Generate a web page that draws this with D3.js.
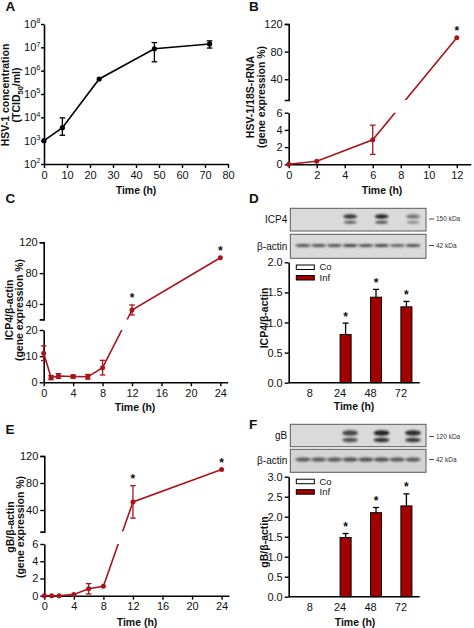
<!DOCTYPE html>
<html><head><meta charset="utf-8">
<script src="https://cdn.jsdelivr.net/npm/d3@7"></script>
<style>
body{margin:0;background:#fff}
svg text{font-family:"Liberation Sans",Arial,Helvetica,sans-serif}
</style></head><body>
<svg id="fig" width="474" height="628"></svg>
<script>
// ---------- DATA ----------
// Panel A: HSV-1 titre (TCID50/ml), log scale
const timeA = [0, 8, 24, 48, 72];
const valA  = [1000, 3600, 4.4e5, 8.7e6, 1.4e7];
const lowA  = [1000, 1700, 4.4e5, 2.4e6, 9.3e6];
const highA = [1000, 9500, 4.4e5, 1.6e7, 1.9e7];
const expTicksA = [2, 3, 4, 5, 6, 7, 8];
const xTicksA = [0, 10, 20, 30, 40, 50, 60, 70, 80];

// Panel B: HSV-1/18S-rRNA
const timeB = [0, 2, 6, 12];
const valB  = [0, 0.35, 2.85, 100];
const sdB   = [0, 0.05, 1.7, 0.8];
const starB = [0, 0, 0, 1];
const xTicksB = [0, 2, 4, 6, 8, 10, 12];
const lowTicksB = [0, 2, 4, 6];
const upTicksB = [40, 80, 120];

// Panel C: ICP4/beta-actin mRNA
const timeC = [0, 1, 2, 4, 6, 8, 12, 24];
const valC  = [11.1, 1.8, 2.4, 2.2, 2.1, 5.6, 32.2, 100];
const sdC   = [2.8, 0.8, 0.9, 0.6, 0.9, 2.8, 6.5, 0.5];
const starC = [0, 0, 0, 0, 0, 0, 1, 1];
const xTicksCE = [0, 4, 8, 12, 16, 20, 24];
const lowTicksC = [0, 10, 20];
const upTicksC = [40, 80, 120];

// Panel E: gB/beta-actin mRNA
const timeE = [0, 1, 2, 4, 6, 8, 12, 24];
const valE  = [0, 0, 0, 0.15, 0.8, 1.1, 52, 100];
const sdE   = [0, 0, 0, 0.05, 0.6, 0.05, 24, 0.5];
const starE = [0, 0, 0, 0, 0, 0, 1, 1];
const lowTicksE = [0, 2, 4, 6];
const upTicksE = [40, 80, 120];

// Panels D and F: protein bars
const barCats = ["8", "24", "48", "72"];
const groups = ["Co", "Inf"];
const coD  = [0, 0, 0, 0];
const infD = [0, 0.80, 1.42, 1.26];
const sdD  = [0, 0.19, 0.13, 0.09];
const ticksD = [0, 0.5, 1.0, 1.5, 2.0];
const coF  = [0, 0, 0, 0];
const infF = [0, 1.48, 2.10, 2.27];
const sdF  = [0, 0.10, 0.13, 0.30];
const ticksF = [0, 0.5, 1.0, 1.5, 2.0, 2.5, 3.0];

// Western blot lanes (relative band intensity per lane)
const lanes = [1, 2, 3, 4, 5, 6, 7, 8];
const icp4Band  = [0, 0, 0, 0.9, 0, 1, 0, 0.55];
const actinD    = [0.75, 0.75, 0.75, 0.8, 0.75, 0.8, 0.65, 0.75];
const gbBand    = [0, 0, 0, 0.8, 0, 1, 0, 0.95];
const actinF    = [0.7, 0.7, 0.7, 0.75, 0.75, 0.75, 0.7, 0.7];

// ---------- DRAW ----------
const svg = d3.select("#fig");
const RED = "#a8141b", BAR = "#a30000";
const defs = svg.append("defs");
defs.append("filter").attr("id", "blur").attr("x", "-50%").attr("y", "-100%")
  .attr("width", "200%").attr("height", "300%")
  .append("feGaussianBlur").attr("stdDeviation", 0.9);
const intFmt = d3.format("d");

function styleAxis(g) {
  g.attr("font-family", null).attr("font-size", null);
  g.selectAll("path.domain").attr("stroke", "#000").attr("stroke-width", 1.6);
  g.selectAll(".tick line").attr("stroke", "#000").attr("stroke-width", 1.4);
  g.selectAll(".tick text").attr("font-size", 11).attr("fill", "#111");
}
function text(x, y, s, o = {}) {
  const t = svg.append("text").attr("x", x).attr("y", y).text(s)
    .attr("font-size", o.size || 11).attr("fill", "#111")
    .attr("text-anchor", o.anchor || "middle");
  if (o.bold) t.attr("font-weight", "bold");
  return t;
}
function panelLetter(x, y, s) { text(x, y, s, {size: 13.5, bold: true, anchor: "start"}); }
function timeTitle(x, y) { text(x, y, "Time (h)", {size: 10.5, bold: true}); }
function yTitle(cy, lines) {
  const g = svg.append("g").attr("transform", `translate(0,${cy}) rotate(-90)`);
  lines.forEach(l => {
    const t = g.append("text").attr("x", 0).attr("y", l.x).attr("dy", "0.36em")
      .attr("text-anchor", "middle").attr("font-size", 10.5).attr("font-weight", "bold")
      .attr("fill", "#111");
    if (l.parts) l.parts.forEach(p => {
      const ts = t.append("tspan").text(p.s);
      if (p.sub) ts.attr("font-size", 7.5).attr("dy", 3);
      if (p.after) ts.attr("dy", -3);
    });
    else t.text(l.text);
  });
}

// ---- Panel A ----
(function () {
  const x = d3.scaleLinear().domain([0, 80]).range([44, 228]);
  const y = d3.scaleLog().domain([1e2, 1e8]).range([164, 24]);
  svg.append("g").attr("transform", "translate(0,164)")
    .call(d3.axisBottom(x).tickValues(xTicksA).tickFormat(intFmt).tickSize(4).tickSizeOuter(0).tickPadding(3))
    .call(styleAxis);
  svg.append("g").attr("transform", "translate(44,0)")
    .call(d3.axisLeft(y).tickValues(expTicksA.map(e => Math.pow(10, e))).tickFormat("").tickSize(3).tickSizeOuter(0))
    .call(styleAxis);
  expTicksA.forEach(e => {
    const t = svg.append("text").attr("x", 40.5).attr("y", y(Math.pow(10, e))).attr("dy", "0.36em")
      .attr("text-anchor", "end").attr("font-size", 11).attr("fill", "#111");
    t.append("tspan").text("10");
    t.append("tspan").text(e).attr("font-size", 7.5).attr("dy", -4.5);
  });
  const pts = timeA.map((t, i) => [x(t), y(valA[i])]);
  svg.append("path").attr("d", d3.line()(pts)).attr("fill", "none").attr("stroke", "#000").attr("stroke-width", 1.6);
  timeA.forEach((t, i) => {
    if (highA[i] > lowA[i]) {
      const g = svg.append("g").attr("stroke", "#000").attr("stroke-width", 1.3);
      g.append("line").attr("x1", x(t)).attr("x2", x(t)).attr("y1", y(lowA[i])).attr("y2", y(highA[i]));
      [lowA[i], highA[i]].forEach(v => g.append("line").attr("x1", x(t) - 2.8).attr("x2", x(t) + 2.8).attr("y1", y(v)).attr("y2", y(v)));
    }
  });
  svg.append("g").selectAll("circle").data(pts).join("circle")
    .attr("cx", d => d[0]).attr("cy", d => d[1]).attr("r", 2.6).attr("fill", "#000");
  panelLetter(5.5, 11, "A");
  timeTitle(136, 194);
  yTitle(95, [
    {x: 5.5, text: "HSV-1 concentration"},
    {x: 16.5, parts: [{s: "(TCID"}, {s: "50", sub: true}, {s: "/ml)", after: true}]}
  ]);
})();

// ---- broken-axis line panels ----
function linePanel(o) {
  const x = d3.scaleLinear().domain(o.xDomain).range(o.xRange);
  const yl = d3.scaleLinear().domain(o.lowDomain).range(o.lowRange);
  const yu = d3.scaleLinear().domain(o.upDomain).range(o.upRange);
  const y = v => v <= o.lowDomain[1] ? yl(v) : yu(v);
  const ax = o.xRange[0], ay = o.lowRange[0];
  svg.append("g").attr("transform", `translate(0,${ay})`)
    .call(d3.axisBottom(x).tickValues(o.xTicks).tickFormat(intFmt).tickSize(4).tickSizeOuter(0).tickPadding(3)).call(styleAxis);
  svg.append("g").attr("transform", `translate(${ax},0)`)
    .call(d3.axisLeft(yl).tickValues(o.lowTicks).tickFormat(intFmt).tickSize(4).tickSizeOuter(0).tickPadding(2)).call(styleAxis);
  svg.append("g").attr("transform", `translate(${ax},0)`)
    .call(d3.axisLeft(yu).tickValues(o.upTicks).tickFormat(intFmt).tickSize(4).tickSizeOuter(4).tickPadding(2)).call(styleAxis);
  const id = "clip" + o.id;
  const cp = defs.append("clipPath").attr("id", id);
  cp.append("rect").attr("x", 0).attr("y", 0).attr("width", 474).attr("height", o.upRange[0]);
  cp.append("rect").attr("x", 0).attr("y", o.lowRange[1]).attr("width", 474).attr("height", 628);
  const pts = o.t.map((t, i) => [x(t), y(o.v[i])]);
  svg.append("path").attr("d", d3.line()(pts)).attr("fill", "none").attr("stroke", RED)
    .attr("stroke-width", 1.6).attr("clip-path", `url(#${id})`);
  o.t.forEach((t, i) => {
    const sd = o.sd[i];
    if (sd > 0.3 || (sd > 0 && o.v[i] < 10)) {
      const lo = Math.max(o.v[i] - sd, 0), hi = o.v[i] + sd;
      if (y(lo) - y(hi) > 1.5) {
        const g = svg.append("g").attr("stroke", RED).attr("stroke-width", 1.3);
        g.append("line").attr("x1", x(t)).attr("x2", x(t)).attr("y1", y(lo)).attr("y2", y(hi));
        [lo, hi].forEach(v => g.append("line").attr("x1", x(t) - 2.8).attr("x2", x(t) + 2.8).attr("y1", y(v)).attr("y2", y(v)));
      }
    }
    if (o.star[i]) text(x(t), y(o.v[i] + o.sd[i]) - 2.5, "*", {size: 12, bold: true});
  });
  svg.append("g").selectAll("circle").data(pts).join("circle")
    .attr("cx", d => d[0]).attr("cy", d => d[1]).attr("r", 2.5).attr("fill", RED);
}

linePanel({id: "B", t: timeB, v: valB, sd: sdB, star: starB,
  xDomain: [0, 13], xRange: [288.7, 470.8], xTicks: xTicksB,
  lowDomain: [0, 6], lowRange: [164.3, 112.7], lowTicks: lowTicksB,
  upDomain: [10, 120], upRange: [100, 24], upTicks: upTicksB});
panelLetter(249, 11, "B");
timeTitle(382, 194);
yTitle(97, [{x: 250.5, text: "HSV-1/18S-rRNA"}, {x: 261.5, text: "(gene expression %)"}]);

linePanel({id: "C", t: timeC, v: valC, sd: sdC, star: starC,
  xDomain: [0, 25], xRange: [43.7, 227.7], xTicks: xTicksCE,
  lowDomain: [0, 20], lowRange: [382.3, 330], lowTicks: lowTicksC,
  upDomain: [20, 120], upRange: [319.4, 242.3], upTicks: upTicksC});
panelLetter(5.5, 203, "C");
timeTitle(135, 411);
yTitle(310, [{x: 9, text: "ICP4/β-actin"}, {x: 19.5, text: "(gene expression %)"}]);

linePanel({id: "E", t: timeE, v: valE, sd: sdE, star: starE,
  xDomain: [0, 25], xRange: [44.3, 229], xTicks: xTicksCE,
  lowDomain: [0, 6], lowRange: [595.7, 544], lowTicks: lowTicksE,
  upDomain: [8, 120], upRange: [531.6, 456], upTicks: upTicksE});
panelLetter(5.5, 434, "E");
timeTitle(137, 626);
yTitle(527, [{x: 10, text: "gB/β-actin"}, {x: 20.5, text: "(gene expression %)"}]);

// ---- Western blots ----
const laneX = d3.scalePoint().domain(lanes).range([303, 413]);
function blotRow(o) {
  svg.append("rect").attr("x", o.x0).attr("y", o.y0).attr("width", o.x1 - o.x0).attr("height", o.y1 - o.y0)
    .attr("fill", o.bg || "#dadada").attr("stroke", "#5a5a5a").attr("stroke-width", 1);
  const g = svg.append("g").attr("filter", "url(#blur)");
  lanes.forEach((l, i) => {
    if (o.intens[i] <= 0) return;
    o.bands.forEach(b => {
      g.append("ellipse").attr("cx", laneX(l)).attr("cy", b.cy).attr("rx", b.w / 2).attr("ry", b.h / 2)
        .attr("fill", "#222").attr("opacity", Math.min(1, o.intens[i] * b.op));
    });
  });
  text(o.x0 - 3, (o.y0 + o.y1) / 2, o.label, {size: 10, anchor: "end"}).attr("dy", "0.36em");
  svg.append("line").attr("x1", o.x1 + 3).attr("x2", o.x1 + 8).attr("y1", o.kdaY).attr("y2", o.kdaY)
    .attr("stroke", "#333").attr("stroke-width", 0.9);
  text(o.x1 + 10, o.kdaY, o.kda, {size: 6.5, anchor: "start"}).attr("dy", "0.35em").attr("fill", "#333");
}
blotRow({x0: 290.3, x1: 426, y0: 208.3, y1: 231, label: "ICP4", kda: "150 kDa", kdaY: 219, intens: icp4Band,
  bands: [{cy: 216.5, h: 4.5, w: 14, op: 1}, {cy: 222.3, h: 2.8, w: 13, op: 0.85}]});
blotRow({x0: 290.3, x1: 426, y0: 234.3, y1: 258.3, label: "β-actin", kda: "42 kDa", kdaY: 245.5, intens: actinD,
  bands: [{cy: 245.5, h: 3.2, w: 15, op: 1}]});
blotRow({x0: 290.3, x1: 426, y0: 424.3, y1: 446.7, label: "gB", kda: "120 kDa", kdaY: 436.5, intens: gbBand,
  bands: [{cy: 433, h: 5.5, w: 16, op: 1}, {cy: 440, h: 4.5, w: 16, op: 0.95}]});
blotRow({x0: 290.3, x1: 426, y0: 449.3, y1: 472.3, label: "β-actin", kda: "42 kDa", kdaY: 459.5, intens: actinF,
  bands: [{cy: 459.5, h: 4.2, w: 15.5, op: 1}], bg: "#d4d4d4"});

// ---- bar panels ----
function barPanel(o) {
  const x = d3.scaleBand().domain(barCats).range([294.5, 416.1]).paddingInner(0).paddingOuter(0);
  const xs = d3.scaleBand().domain(groups).range([0, x.bandwidth()]).paddingInner(0).paddingOuter(0.38);
  const y = d3.scaleLinear().domain(o.yDomain).range(o.yRange);
  const ax = 288.7, ay = o.yRange[0];
  barCats.forEach((c, i) => {
    [[o.co, "#fff"], [o.inf, BAR]].forEach(([arr, fill], k) => {
      const v = arr[i];
      if (v <= 0) return;
      svg.append("rect").attr("x", x(c) + xs(groups[k])).attr("y", y(v))
        .attr("width", xs.bandwidth()).attr("height", y(0) - y(v))
        .attr("fill", fill).attr("stroke", "#000").attr("stroke-width", 1);
    });
    const v = o.inf[i], sd = o.sd[i];
    if (v > 0) {
      const cx = x(c) + xs("Inf") + xs.bandwidth() / 2;
      const g = svg.append("g").attr("stroke", "#000").attr("stroke-width", 1.3);
      g.append("line").attr("x1", cx).attr("x2", cx).attr("y1", y(v)).attr("y2", y(v + sd));
      g.append("line").attr("x1", cx - 3).attr("x2", cx + 3).attr("y1", y(v + sd)).attr("y2", y(v + sd));
      text(cx, y(v + sd) - 2.5, "*", {size: 12, bold: true});
    }
  });
  svg.append("g").attr("transform", `translate(${ax},0)`)
    .call(d3.axisLeft(y).tickValues(o.ticks).tickFormat(d3.format(".1f")).tickSize(4).tickSizeOuter(0).tickPadding(2))
    .call(styleAxis);
  const xa = svg.append("g").attr("transform", `translate(0,${ay})`)
    .call(d3.axisBottom(x).tickSize(0).tickPadding(6.5)).call(styleAxis);
  xa.select("path.domain").remove();
  svg.append("line").attr("x1", ax).attr("x2", 419.7).attr("y1", ay).attr("y2", ay)
    .attr("stroke", "#000").attr("stroke-width", 1.6);
  const ly = o.legendY;
  [["Co", "#fff"], ["Inf", BAR]].forEach(([s, f], k) => {
    svg.append("rect").attr("x", 296.3).attr("y", ly + k * 10.5 - 2).attr("width", 18).attr("height", 4.5)
      .attr("fill", f).attr("stroke", "#000").attr("stroke-width", 1);
    text(319.5, ly + k * 10.5, s, {size: 9.5, anchor: "start"}).attr("dy", "0.36em");
  });
}
barPanel({yDomain: [0, 2], yRange: [382.7, 262.3], ticks: ticksD, co: coD, inf: infD, sd: sdD, legendY: 267});
panelLetter(249, 203, "D");
timeTitle(354, 410);
yTitle(318, [{x: 264, text: "ICP4/β-actin"}]);

barPanel({yDomain: [0, 3], yRange: [596.7, 476.7], ticks: ticksF, co: coF, inf: infF, sd: sdF, legendY: 481.2});
panelLetter(249, 429, "F");
timeTitle(355, 626);
yTitle(542, [{x: 264, text: "gB/β-actin"}]);
</script>
</body></html>
